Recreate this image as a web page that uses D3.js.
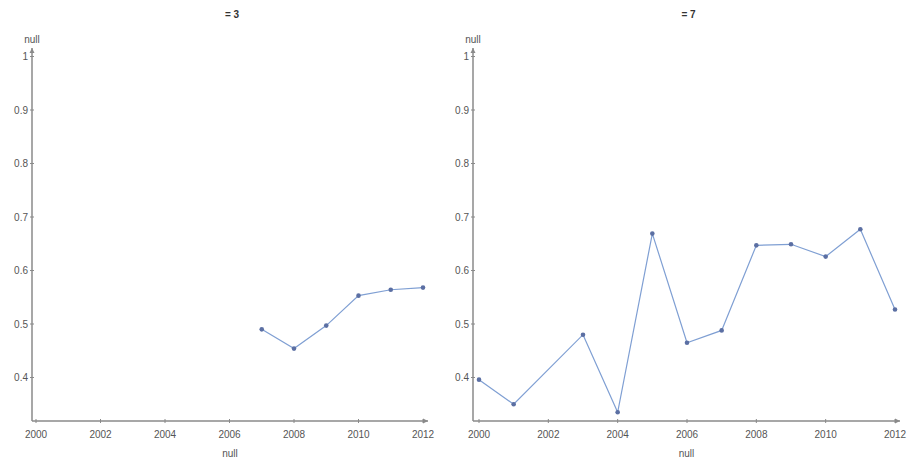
<!DOCTYPE html>
<html><head><meta charset="utf-8">
<script src="https://cdn.jsdelivr.net/npm/d3@7"></script>
<style>body{margin:0;background:#fff}svg{display:block}text{font-family:"Liberation Sans",Arial,sans-serif}</style>
</head><body><svg id="c" width="908" height="461"></svg>
<script>
const titles = ["= 3", "= 7"];
const years3 = [2007, 2008, 2009, 2010, 2011, 2012];
const values3 = [0.490, 0.454, 0.497, 0.553, 0.564, 0.568];
const years7 = [2000, 2001, 2003, 2004, 2005, 2006, 2007, 2008, 2009, 2010, 2011, 2012];
const values7 = [0.396, 0.350, 0.480, 0.335, 0.669, 0.465, 0.488, 0.647, 0.649, 0.626, 0.677, 0.527];
const xTicks = [2000, 2002, 2004, 2006, 2008, 2010, 2012];
const yTicks = [0.4, 0.5, 0.6, 0.7, 0.8, 0.9, 1];
const axisLabel = "null";

const svg = d3.select("#c");
const panels = [
  {title: titles[0], years: years3, values: values3, axisX: 32, x0: 36, x1: 423, xEnd: 428},
  {title: titles[1], years: years7, values: values7, axisX: 473, x0: 479, x1: 895, xEnd: 900}
];
const axisY = 421, yTop = 48;
const y = d3.scaleLinear().domain([0.4, 1]).range([377.5, 56.5]);

panels.forEach(p => {
  const g = svg.append("g");
  const x = d3.scaleLinear().domain([2000, 2012]).range([p.x0, p.x1]);
  const axisColor = "#8a8a8a";
  // axis lines
  g.append("line").attr("x1", p.axisX).attr("x2", p.xEnd).attr("y1", axisY).attr("y2", axisY)
    .attr("stroke", axisColor).attr("stroke-width", 1.5);
  g.append("line").attr("x1", p.axisX).attr("x2", p.axisX).attr("y1", axisY).attr("y2", yTop)
    .attr("stroke", axisColor).attr("stroke-width", 1.5);
  // arrowheads
  g.append("path").attr("d", `M${p.xEnd},${axisY} l-5,-2.5 l0,5 z`).attr("fill", axisColor);
  g.append("path").attr("d", `M${p.axisX},${yTop} l-2.5,5 l5,0 z`).attr("fill", axisColor);
  // x ticks
  xTicks.forEach(t => {
    g.append("line").attr("x1", x(t)).attr("x2", x(t)).attr("y1", axisY - 2).attr("y2", axisY + 2)
      .attr("stroke", axisColor);
    g.append("text").attr("x", x(t)).attr("y", axisY + 17).attr("text-anchor", "middle")
      .attr("font-size", 10).attr("fill", "#555").text(t);
  });
  // y ticks
  yTicks.forEach(t => {
    g.append("line").attr("x1", p.axisX - 2).attr("x2", p.axisX + 2).attr("y1", y(t)).attr("y2", y(t))
      .attr("stroke", axisColor);
    g.append("text").attr("x", p.axisX - 4).attr("y", y(t) + 3.5).attr("text-anchor", "end")
      .attr("font-size", 10).attr("fill", "#555").text(t);
  });
  // labels
  g.append("text").attr("x", p.axisX).attr("y", 43).attr("text-anchor", "middle")
    .attr("font-size", 10).attr("fill", "#555").text(axisLabel);
  g.append("text").attr("x", (p.axisX + p.xEnd) / 2).attr("y", 457).attr("text-anchor", "middle")
    .attr("font-size", 10).attr("fill", "#555").text(axisLabel);
  g.append("text").attr("x", (p.axisX + p.xEnd) / 2 + 2).attr("y", 18).attr("text-anchor", "middle")
    .attr("font-size", 10).attr("font-weight", "bold").attr("fill", "#333").text(p.title);
  // data
  const data = p.years.map((yr, i) => ({yr, v: p.values[i]}));
  g.append("path").datum(data)
    .attr("d", d3.line().x(d => x(d.yr)).y(d => y(d.v)))
    .attr("fill", "none").attr("stroke", "#7f9fd3").attr("stroke-width", 1.2);
  g.selectAll("circle").data(data).join("circle")
    .attr("cx", d => x(d.yr)).attr("cy", d => y(d.v)).attr("r", 2.3)
    .attr("fill", "#5b6fa3");
});
</script></body></html>
